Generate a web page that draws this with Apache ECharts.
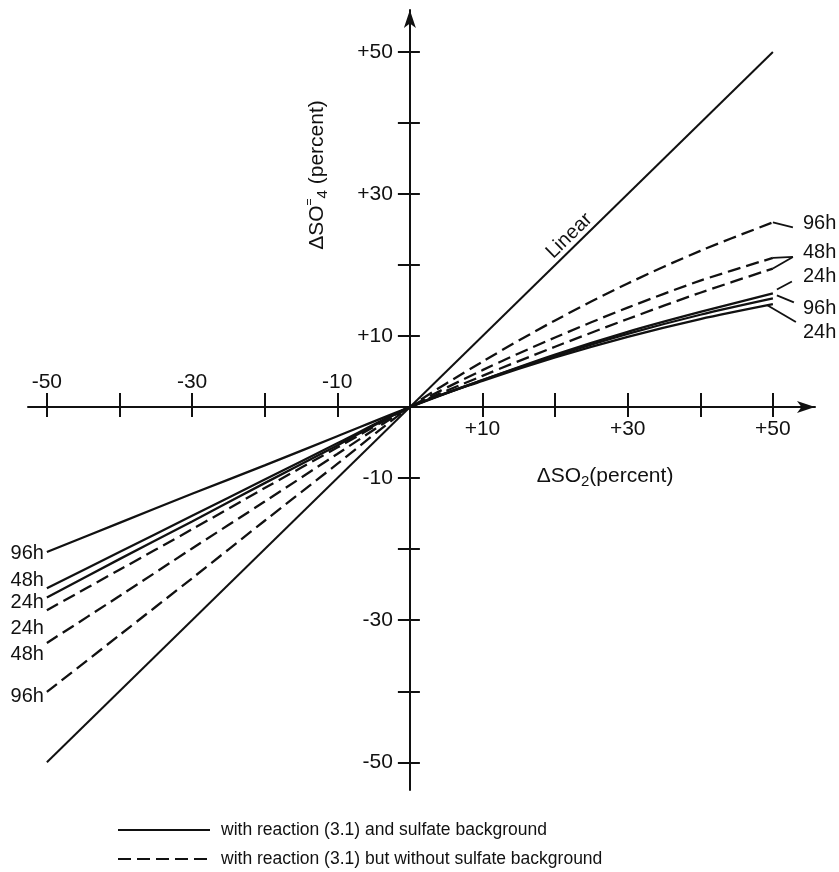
<!DOCTYPE html>
<html><head><meta charset="utf-8">
<script src="https://cdn.jsdelivr.net/npm/echarts@6/dist/echarts.min.js"></script>
<style>html,body{margin:0;padding:0;background:#fff}#c{width:839px;height:872px}</style>
</head><body><div id="c"></div>
<script>
// ---- data ----
const xValues  = [-50, -40, -30, -20, -10, 0, 10, 20, 30, 40, 50];
const solid96  = [-20.4, -16.3, -12.2, -8.2, -4.1, 0, 3.8, 7.4, 10.6, 13.4, 16.0];
const solid48  = [-25.5, -20.4, -15.3, -10.2, -5.1, 0, 3.8, 7.2, 10.3, 13.0, 15.3];
const solid24  = [-26.8, -21.4, -16.1, -10.7, -5.4, 0, 3.7, 7.0, 9.9, 12.4, 14.5];
const dashed24 = [-28.6, -22.9, -17.2, -11.4, -5.7, 0, 4.4, 8.5, 12.4, 16.1, 19.5];
const dashed48 = [-33.2, -26.6, -19.9, -13.3, -6.6, 0, 5.2, 9.8, 14.0, 17.8, 21.0];
const dashed96 = [-40.1, -32.1, -24.1, -16.0, -8.0, 0, 6.4, 12.2, 17.4, 22.0, 26.0];
const linearX  = [-50, 50];
const linearY  = [-50, 50];
const linearLabelAt = 23;
const tickValues   = [-50, -40, -30, -20, -10, 10, 20, 30, 40, 50];
const xLabelsAbove = [-50, -30, -10];
const xLabelsBelow = [10, 30, 50];
const yLabelValues = [-50, -30, -10, 10, 30, 50];
const nameSolid  = 'with reaction (3.1) and sulfate background';
const nameDashed = 'with reaction (3.1) but without sulfate background';

const FONT = 'Liberation Sans, Arial, sans-serif';
const INK = '#111';
const fmt = v => v > 0 ? '+' + v : '-' + Math.abs(v);

function curve(name, vals, dashed, leftTxt, leftDy, rightTxt, rightDy) {
  const data = xValues.map((x, i) => [x, vals[i]]);
  const mp = [];
  const lbl = (pos, txt, dy, dist) => ({show: true, position: pos, distance: dist, offset: [0, dy], formatter: txt,
      color: INK, fontFamily: FONT, fontSize: 20});
  if (leftTxt) mp.push({coord: data[0], label: lbl('left', leftTxt, leftDy, 3)});
  if (rightTxt) mp.push({coord: data[data.length - 1], label: lbl('right', rightTxt, rightDy, 30)});
  return {
    type: 'line', name, data, showSymbol: false, symbol: 'none', smooth: 0.3,
    lineStyle: {color: INK, width: 2.3, type: dashed ? [13, 6] : 'solid'},
    itemStyle: {color: INK},
    animation: false, z: 3,
    markPoint: {symbol: 'circle', symbolSize: 0, silent: true, animation: false, itemStyle: {color: 'rgba(0,0,0,0)'}, data: mp}
  };
}

const series = [
  curve(nameSolid, solid96, false, '96h', 1, '96h', 15),
  curve(nameSolid, solid48, false, '48h', -8, null, 0),
  curve(nameSolid, solid24, false, '24h', 5, '24h', 28),
  curve(nameDashed, dashed24, true, '24h', 18, '24h', 8),
  curve(nameDashed, dashed48, true, '48h', 12, '48h', -5),
  curve(nameDashed, dashed96, true, '96h', 5, '96h', 1),
  {
    type: 'line', name: 'Linear', data: linearX.map((x, i) => [x, linearY[i]]), symbol: 'none',
    lineStyle: {color: INK, width: 2}, animation: false, z: 3,
    markPoint: {symbol: 'circle', symbolSize: 0, silent: true, animation: false, itemStyle: {color: 'rgba(0,0,0,0)'},
      data: [{coord: [linearLabelAt, linearLabelAt], label: {show: true, position: 'inside', rotate: 44.4, offset: [0, -11],
        formatter: 'Linear', color: INK, fontFamily: FONT, fontSize: 20}}]}
  }
];

// axis extents (the axis lines run past +-50 with arrow heads)
const xMin = -52.6, xMax = 55.8, yMin = -53.9, yMax = 55.9;
const G = {left: 28, right: 24, top: 10, bottom: 82};
const W = 839, H = 872;
const gw = W - G.left - G.right, gh = H - G.top - G.bottom;
// put the axes through the origin (offset from the grid edge)
const xZeroPx = G.left + gw * (0 - xMin) / (xMax - xMin);
const yZeroPx = G.top + gh * (yMax - 0) / (yMax - yMin);
const xAxisOffset = yZeroPx - (H - G.bottom);
const yAxisOffset = G.left - xZeroPx;

const common = {type: 'value', splitLine: {show: false}};
const option = {
  backgroundColor: '#fff',
  animation: false,
  grid: Object.assign({containLabel: false, outerBoundsMode: 'none'}, G),
  xAxis: [
    Object.assign({}, common, {min: xMin, max: xMax, position: 'bottom', offset: xAxisOffset,
      axisLine: {show: true, onZero: false, symbol: ['none', 'arrow'], symbolSize: [9, 18], lineStyle: {color: INK, width: 2}},
      axisTick: {show: true, length: 10, customValues: tickValues, lineStyle: {color: INK, width: 2}},
      axisLabel: {show: true, margin: 12, customValues: xLabelsBelow, formatter: fmt, color: INK, fontFamily: FONT, fontSize: 21}}),
    Object.assign({}, common, {min: xMin, max: xMax, position: 'bottom', offset: xAxisOffset,
      axisLine: {show: false, onZero: false},
      axisTick: {show: true, inside: true, length: 14, customValues: tickValues, lineStyle: {color: INK, width: 2}},
      axisLabel: {show: true, inside: true, margin: 14, customValues: xLabelsAbove, formatter: fmt, color: INK, fontFamily: FONT, fontSize: 21}})
  ],
  yAxis: [
    Object.assign({}, common, {min: yMin, max: yMax, position: 'left', offset: yAxisOffset,
      axisLine: {show: true, onZero: false, symbol: ['none', 'arrow'], symbolSize: [9, 18], lineStyle: {color: INK, width: 2}},
      axisTick: {show: true, length: 12, customValues: tickValues, lineStyle: {color: INK, width: 2}},
      axisLabel: {show: true, margin: 17, customValues: yLabelValues, formatter: fmt, color: INK, fontFamily: FONT, fontSize: 21}}),
    Object.assign({}, common, {min: yMin, max: yMax, position: 'left', offset: yAxisOffset,
      axisLine: {show: false, onZero: false},
      axisTick: {show: true, inside: true, length: 10, customValues: tickValues, lineStyle: {color: INK, width: 2}},
      axisLabel: {show: false}})
  ],
  legend: {
    orient: 'vertical', left: 117, top: 821, height: 51, padding: 0, itemWidth: 92, itemHeight: 14, itemGap: 11,
    data: [nameSolid, nameDashed], selectedMode: false,
    itemStyle: {opacity: 0},
    textStyle: {color: INK, fontFamily: FONT, fontSize: 17.5, padding: [0, 0, 0, 6]}
  },
  graphic: [
    {type: 'text', x: 317, y: 175, rotation: Math.PI / 2, z: 10,
      style: {text: '{m|ΔSO}{sp|=}{sb|4}{m| (percent)}', align: 'center', verticalAlign: 'middle', fill: INK,
        rich: {m: {fontFamily: FONT, fontSize: 21, lineHeight: 26, fill: INK},
               sb: {fontFamily: FONT, fontSize: 15, lineHeight: 12, verticalAlign: 'bottom', fill: INK},
               sp: {fontFamily: FONT, fontSize: 12, lineHeight: 12, verticalAlign: 'top', fill: INK}}}},
    {type: 'text', x: 605, y: 476, z: 10,
      style: {text: '{m|ΔSO}{sb|2}{m|(percent)}', align: 'center', verticalAlign: 'middle', fill: INK,
        rich: {m: {fontFamily: FONT, fontSize: 21, lineHeight: 26, fill: INK},
               sb: {fontFamily: FONT, fontSize: 15, lineHeight: 12, verticalAlign: 'bottom', fill: INK}}}}
  ],
  series
};
const chart = echarts.init(document.getElementById('c'), null, {renderer: 'canvas'});
chart.setOption(option);

// small leader strokes from the curve ends toward the right-hand labels
const endPx = vals => chart.convertToPixel({gridIndex: 0}, [xValues[xValues.length - 1], vals[vals.length - 1]]);
const e96d = endPx(dashed96), e48d = endPx(dashed48), e24d = endPx(dashed24), e96s = endPx(solid96), e24s = endPx(solid24);
const seg = (a, b) => ({type: 'line', silent: true, z: 5, shape: {x1: a[0], y1: a[1], x2: b[0], y2: b[1]},
  style: {stroke: INK, lineWidth: 1.8}});
const tip48 = [e48d[0] + 20, e48d[1] - 1];
const leaders = [
  seg(e96d, [e96d[0] + 20, e96d[1] + 5]),
  seg(e48d, tip48), seg(e24d, tip48),
  seg([e24d[0] + 4, e24d[1] + 21], [e24d[0] + 19, e24d[1] + 13]),
  seg([e96s[0] + 4, e96s[1] + 2], [e96s[0] + 21, e96s[1] + 9]),
  seg([e24s[0] - 6, e24s[1] + 1], [e24s[0] + 23, e24s[1] + 18])
];
chart.setOption({graphic: option.graphic.concat(leaders)});
</script></body></html>
